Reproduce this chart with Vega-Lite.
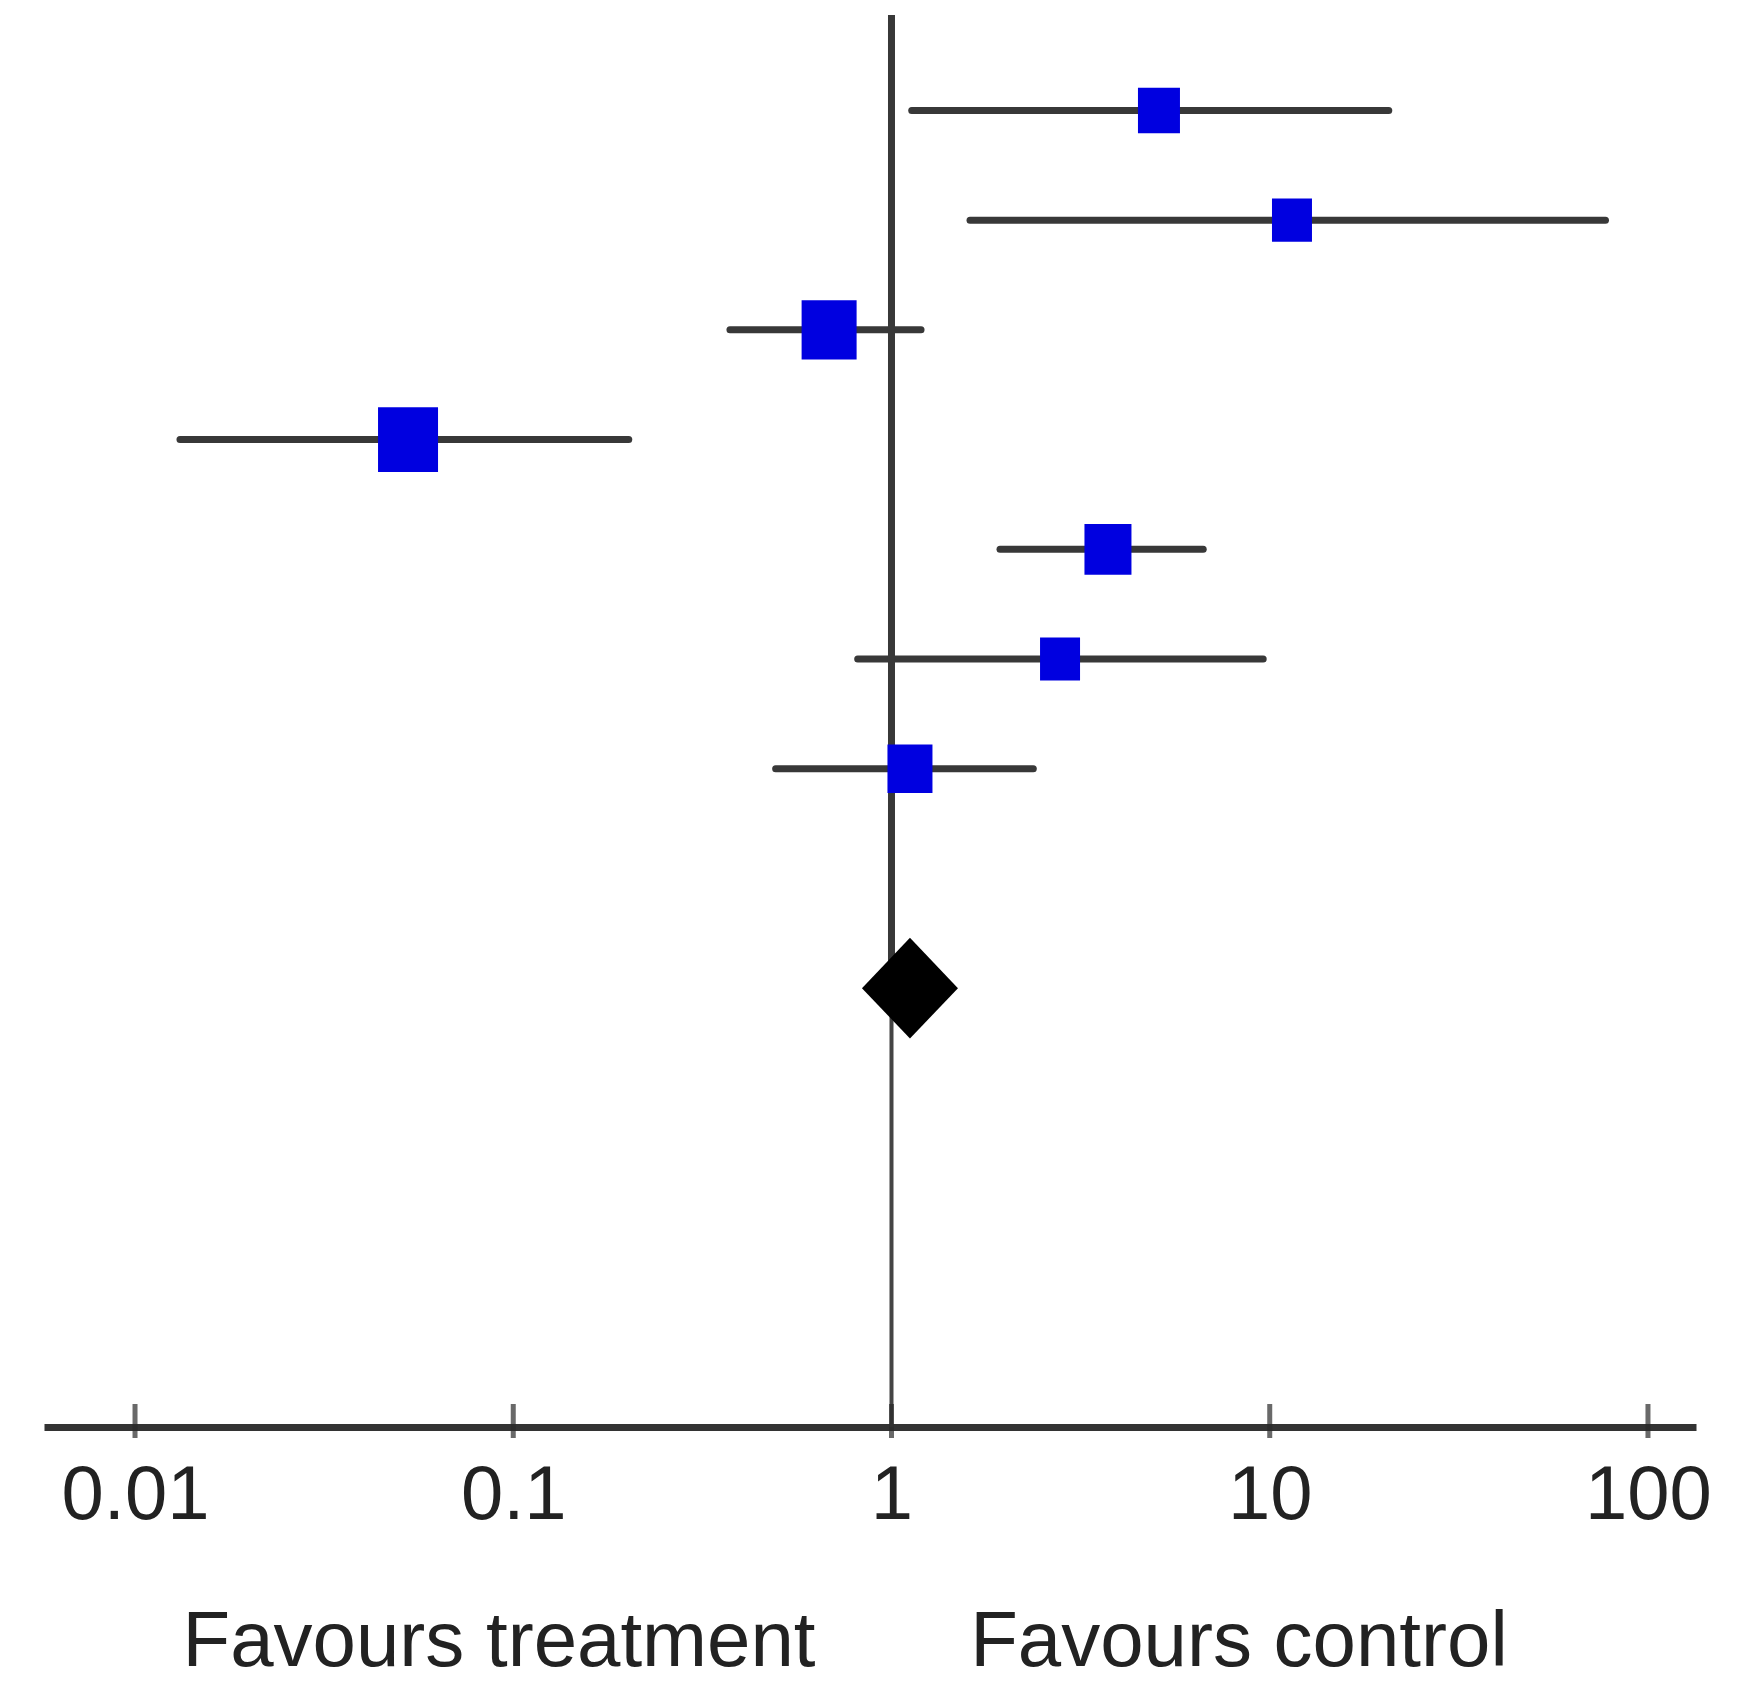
{
  "$schema": "https://vega.github.io/schema/vega-lite/v6.json",
  "autosize": {"type": "none"},
  "width": 1652,
  "height": 1412,
  "padding": {"left": 44, "top": 15, "right": 46, "bottom": 261},
  "background": "white",
  "config": {"view": {"stroke": null}, "font": "Liberation Sans"},
  "datasets": {
    "studies": [
      {"study": 1, "row": 1, "or": 5.095, "lo": 1.131, "hi": 20.64, "w": 1764},
      {"study": 2, "row": 2, "or": 11.45, "lo": 1.613, "hi": 77.2, "w": 1600},
      {"study": 3, "row": 3, "or": 0.684, "lo": 0.374, "hi": 1.197, "w": 3025},
      {"study": 4, "row": 4, "or": 0.0527, "lo": 0.01315, "hi": 0.202, "w": 3600},
      {"study": 5, "row": 5, "or": 3.735, "lo": 1.936, "hi": 6.67, "w": 2209},
      {"study": 6, "row": 6, "or": 2.79, "lo": 0.814, "hi": 9.61, "w": 1600},
      {"study": 7, "row": 7, "or": 1.119, "lo": 0.494, "hi": 2.371, "w": 2025}
    ],
    "pooled": [{"row": 9, "or": 1.119}],
    "refTop": [{"x": 1, "y": 0.13, "y2": 9}],
    "refBottom": [{"x": 1, "y": 9, "y2": 13}],
    "ticks": [{"v": 0.01}, {"v": 0.1}, {"v": 1}, {"v": 10}, {"v": 100}],
    "labels": [
      {"x": 0.0917, "row": 15.18, "text": "Favours treatment"},
      {"x": 8.29, "row": 15.18, "text": "Favours control"}
    ]
  },
  "resolve": {"scale": {"x": "shared", "y": "shared"}},
  "layer": [
    {
      "data": {"name": "studies"},
      "mark": {"type": "rule", "strokeWidth": 7, "color": "#383838", "strokeCap": "round"},
      "encoding": {
        "x": {
          "field": "lo", "type": "quantitative",
          "scale": {"type": "log", "domain": [0.005746, 133.96], "nice": false, "zero": false},
          "axis": {
            "values": [0.01, 0.1, 1, 10, 100],
            "format": "~g",
            "title": null,
            "grid": false,
            "ticks": false,
            "tickSize": 0,
            "domain": true,
            "domainWidth": 7,
            "domainColor": "#333333",
            "labelFontSize": 76,
            "labelColor": "#222222",
            "labelFont": "Liberation Sans",
            "labelPadding": 31,
            "labelFlush": false,
            "labelOverlap": false
          }
        },
        "x2": {"field": "hi"},
        "y": {
          "field": "row", "type": "quantitative",
          "scale": {"domain": [0.13, 13.0], "reverse": true, "nice": false, "zero": false},
          "axis": null
        }
      }
    },
    {
      "data": {"name": "refTop"},
      "mark": {"type": "rule", "strokeWidth": 7, "color": "#383838"},
      "encoding": {
        "x": {"field": "x", "type": "quantitative"},
        "y": {"field": "y", "type": "quantitative"},
        "y2": {"field": "y2"}
      }
    },
    {
      "data": {"name": "refBottom"},
      "mark": {"type": "rule", "strokeWidth": 4, "color": "#444444"},
      "encoding": {
        "x": {"field": "x", "type": "quantitative"},
        "y": {"field": "y", "type": "quantitative"},
        "y2": {"field": "y2"}
      }
    },
    {
      "data": {"name": "ticks"},
      "mark": {"type": "tick", "orient": "vertical", "size": 34, "thickness": 5, "color": "#2a2a2a", "yOffset": -6},
      "encoding": {
        "x": {"field": "v", "type": "quantitative"},
        "y": {"datum": 13, "type": "quantitative"}
      }
    },
    {
      "data": {"name": "studies"},
      "mark": {"type": "point", "shape": "M-1,-1.08H1V1.08H-1Z", "filled": true, "opacity": 1, "color": "#0000e0"},
      "encoding": {
        "x": {"field": "or", "type": "quantitative"},
        "y": {"field": "row", "type": "quantitative"},
        "size": {"field": "w", "type": "quantitative", "scale": null, "legend": null}
      }
    },
    {
      "data": {"name": "pooled"},
      "mark": {"type": "point", "shape": "M-1,0L0,-1.05L1,0L0,1.05Z", "filled": true, "opacity": 1, "color": "#000000", "size": 9216},
      "encoding": {
        "x": {"field": "or", "type": "quantitative"},
        "y": {"field": "row", "type": "quantitative"}
      }
    },
    {
      "data": {"name": "labels"},
      "mark": {"type": "text", "fontSize": 78, "font": "Liberation Sans", "color": "#222222", "align": "center", "baseline": "alphabetic"},
      "encoding": {
        "x": {"field": "x", "type": "quantitative"},
        "y": {"field": "row", "type": "quantitative"},
        "text": {"field": "text"}
      }
    }
  ]
}
